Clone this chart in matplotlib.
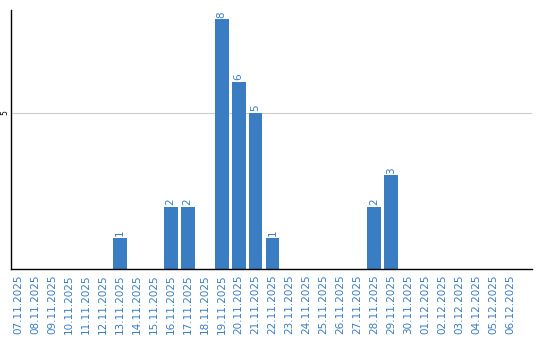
import numpy as np
import matplotlib
matplotlib.use("Agg")
import matplotlib.pyplot as plt

dates = ["07.11.2025", "08.11.2025", "09.11.2025", "10.11.2025", "11.11.2025",
         "12.11.2025", "13.11.2025", "14.11.2025", "15.11.2025", "16.11.2025",
         "17.11.2025", "18.11.2025", "19.11.2025", "20.11.2025", "21.11.2025",
         "22.11.2025", "23.11.2025", "24.11.2025", "25.11.2025", "26.11.2025",
         "27.11.2025", "28.11.2025", "29.11.2025", "30.11.2025", "01.12.2025",
         "02.12.2025", "03.12.2025", "04.12.2025", "05.12.2025", "06.12.2025"]
counts = [0, 0, 0, 0, 0, 0, 1, 0, 0, 2,
          2, 0, 8, 6, 5, 1, 0, 0, 0, 0,
          0, 2, 3, 0, 0, 0, 0, 0, 0, 0]

blue = "#3b7dc2"

fig = plt.figure(figsize=(5.4, 3.4), dpi=100)
ax = fig.add_axes([0.0204, 0.209, 0.965, 0.762])

x = np.arange(len(dates))
ax.bar(x, counts, width=0.82, color=blue, zorder=2)

# value labels above bars
for xi, v in zip(x, counts):
    if v > 0:
        ax.text(xi, v + 0.05, str(v), rotation=90, ha="center", va="bottom",
                color=blue, fontsize=7.5)

ax.set_xlim(-0.41, 30.3)
ax.set_ylim(0, 8.3)
ax.set_xticks(x)
ax.set_xticklabels(dates, rotation=90, color=blue, fontsize=7.5)
ax.set_yticks([5])
ax.set_yticklabels(["5"], rotation=90, fontsize=5.5, va="center")
ax.tick_params(axis="x", length=0, pad=4)
ax.tick_params(axis="y", length=0, pad=1)
ax.yaxis.grid(True, color="#cccccc", linewidth=0.8, zorder=0)

for s in ["top", "right"]:
    ax.spines[s].set_visible(False)
ax.spines["left"].set_linewidth(1.0)
ax.spines["bottom"].set_linewidth(1.0)

fig.savefig("out.png", dpi=100)
